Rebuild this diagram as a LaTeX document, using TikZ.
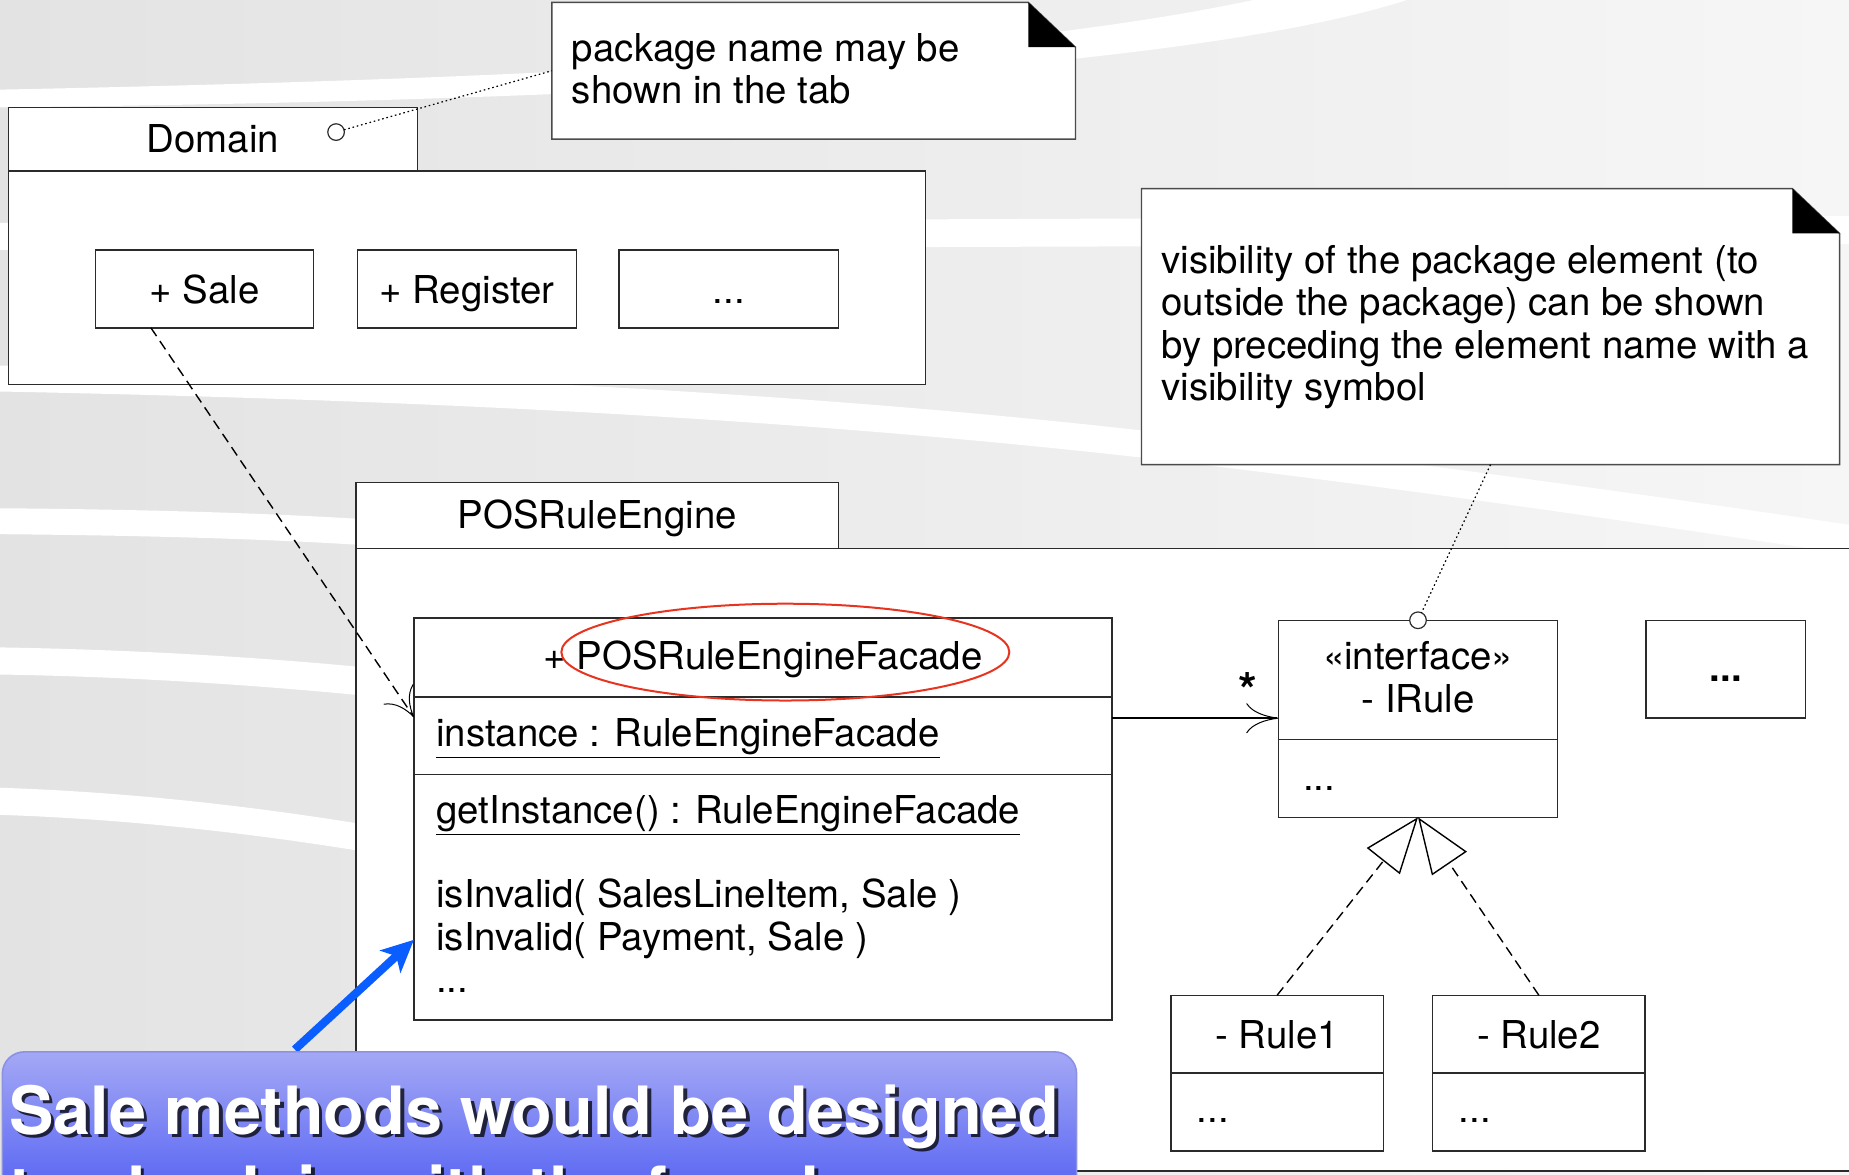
\documentclass[tikz,border=0pt]{standalone}
\usepackage{fontspec}
\setmainfont{TeX Gyre Heros}
\usetikzlibrary{arrows.meta,fit,calc}

\definecolor{bgL}{HTML}{E3E3E3}
\definecolor{bgR}{HTML}{F6F6F6}
\definecolor{linec}{HTML}{2B2B2B}
\definecolor{ovalred}{HTML}{E8341F}
\definecolor{calloutTop}{HTML}{A4A8F5}
\definecolor{calloutBot}{HTML}{5562F3}
\definecolor{calloutEdge}{HTML}{8C91E4}
\definecolor{pointer}{HTML}{0A5EFF}

\newcommand\umlfont{\fontsize{19.2pt}{21.2pt}\selectfont}
\newcommand\callfont{\fontsize{33.3pt}{40pt}\selectfont\bfseries}
\newcommand\leftlines[1]{\begin{tabular}[t]{@{}l@{}}#1\end{tabular}}
\newcommand\midlines[1]{\begin{tabular}[t]{@{}c@{}}#1\end{tabular}}

\begin{document}
\begin{tikzpicture}[x=0.5896pt, y=-0.5896pt,
  every node/.style={inner sep=0pt, outer sep=0pt},
  box/.style={draw=linec, line width=0.7pt, fill=white},
  boxlabel/.style={font=\umlfont, anchor=base},
  txt/.style={font=\umlfont, text=black},
  notebox/.style={draw=linec!85, line width=0.7pt, fill=white},
  fold/.style={fill=black},
  band/.style={fill=white},
  anchorcirc/.style={circle, draw=linec, line width=0.6pt, fill=white, minimum size=8.3pt},
  dotline/.style={draw=black, line width=0.6pt, dash pattern=on 0.8pt off 1.4pt},
  dep/.style={draw=black, line width=0.7pt, dash pattern=on 5pt off 3pt,
              -{Computer Modern Rightarrow[length=14pt, width=18pt, line width=0.5pt]}},
  assoc/.style={draw=black, line width=0.7pt,
              -{Computer Modern Rightarrow[length=16pt, width=15pt, line width=0.5pt]}},
  real/.style={draw=black, line width=0.7pt, dash pattern=on 5pt off 3pt,
              -{Triangle[length=28pt, width=21pt, fill=white, line width=0.7pt]}},
  callout/.style={draw=calloutEdge, line width=0.8pt, rounded corners=11pt,
              top color=calloutTop, bottom color=calloutBot},
  pointerarrow/.style={draw=pointer, line width=4.1pt,
              -{Stealth[length=16pt, width=15pt, inset=4pt]}},
]
\useasboundingbox (0,0) rectangle (1568,996);
\clip (0,0) rectangle (1568,996);

% ---------- slide background with white swooshes ----------
\fill[left color=bgL, right color=bgR] (0,0) rectangle (1568,996);
\fill[band] (0,76) .. controls (500,66) and (850,45) .. (1063,0) -- (1193,0)
            .. controls (1000,62) and (500,86) .. (0,91) -- cycle;
\fill[band] (0,189) -- (1568,183) -- (1568,207) -- (0,212) -- cycle;
\fill[band] (0,310) .. controls (400,318) and (700,335) .. (968,365)
            .. controls (1200,392) and (1400,420) .. (1568,445) -- (1568,470)
            .. controls (1400,445) and (1200,415) .. (968,388)
            .. controls (700,358) and (400,340) .. (0,332) -- cycle;
\fill[band] (0,431) .. controls (120,432) and (230,435) .. (320,441) -- (320,463)
            .. controls (230,457) and (120,454) .. (0,453) -- cycle;
\fill[band] (0,549) .. controls (120,551) and (230,558) .. (320,567) -- (320,591)
            .. controls (230,582) and (120,574) .. (0,572) -- cycle;
\fill[band] (0,668) .. controls (120,672) and (230,686) .. (320,701) -- (320,724)
            .. controls (230,709) and (120,695) .. (0,691) -- cycle;

% ---------- package Domain ----------
\node[box, fit={(7,91)(354,145)}] (dtab) {};
\node[boxlabel] (dtablabel) at ($(dtab.center)+(0,11)$) {Domain};
\node[box, fit={(7,145)(785,326)}] (dbody) {};
\node[box, fit={(81,212)(266,278)}] (sale) {};
\node[boxlabel] (salelabel) at ($(sale.center)+(0,12)$) {+ Sale};
\node[box, fit={(303,212)(489,278)}] (register) {};
\node[boxlabel] (registerlabel) at ($(register.center)+(0,12)$) {+ Register};
\node[box, fit={(525,212)(711,278)}] (dmore) {};
\node[boxlabel] (dmorelabel) at ($(dmore.center)+(0,12)$) {...};
\node[anchorcirc] (dcirc) at (285,112) {};

% ---------- package POSRuleEngine ----------
\node[box, fit={(302,409)(711,465)}] (ptab) {};
\node[boxlabel] (ptablabel) at ($(ptab.center)+(0,11)$) {POSRuleEngine};
\node[box, fit={(302,465)(1600,993)}] (pbody) {};

% ---------- notes ----------
\node[fit={(468,2)(912,118)}] (note1) {};
\filldraw[notebox] (468,2) -- (872,2) -- (912,40) -- (912,118) -- (468,118) -- cycle;
\fill[fold] (872,2) -- (872,40) -- (912,40) -- cycle;
\node[txt, anchor=base west] (note1text) at (485,52)
  {\leftlines{package name may be\\shown in the tab}};

\node[fit={(968,160)(1560,394)}] (note2) {};
\filldraw[notebox] (968,160) -- (1520,160) -- (1560,198) -- (1560,394) -- (968,394) -- cycle;
\fill[fold] (1520,160) -- (1520,198) -- (1560,198) -- cycle;
\node[txt, anchor=base west] (note2text) at (985,232)
  {\leftlines{visibility of the package element (to\\outside the package) can be shown\\by preceding the element name with a\\visibility symbol}};

\draw[dotline] (dcirc) -- (note1.west);

% ---------- class POSRuleEngineFacade ----------
\node[box, fit={(351,524)(943,591)}] (fhead) {};
\node[boxlabel] (fheadlabel) at ($(fhead.center)+(0,10)$) {+ POSRuleEngineFacade};
\node[box, fit={(351,591)(943,657)}] (fattr) {};
\node[box, fit={(351,657)(943,865)}] (fops) {};
\node[txt, anchor=base west] (fattrtext) at ($(fattr.north west)+(19,42)$)
  {\underline{instance : RuleEngineFacade}};
\node[txt, anchor=base west] (fopstext) at ($(fops.north west)+(19,41)$)
  {\leftlines{\underline{getInstance() : RuleEngineFacade}\\ \\isInvalid( SalesLineItem, Sale )\\isInvalid( Payment, Sale )\\...}};

% ---------- interface IRule and implementations ----------
\node[box, fit={(1084,526)(1321,627)}] (irhead) {};
\node[box, fit={(1084,627)(1321,693)}] (irbody) {};
\node[txt, anchor=base] (irtext) at ($(irhead.north)+(0,42)$)
  {\midlines{«interface»\\- IRule}};
\node[txt, anchor=base west] (irops) at ($(irbody.north west)+(21,43)$) {...};
\node[anchorcirc] (ircirc) at (irhead.north) {};
\draw[dotline] (note2.south) -- (ircirc);

\node[box, fit={(1396,526)(1531,609)}] (pmore) {};
\node[boxlabel, font=\umlfont\bfseries] (pmorelabel) at ($(pmore.center)+(0,10)$) {...};

\node[box, fit={(993,844)(1173,910)}] (r1head) {};
\node[boxlabel] (r1label) at ($(r1head.center)+(0,12)$) {- Rule1};
\node[box, fit={(993,910)(1173,976)}] (r1body) {};
\node[txt, anchor=base west] (r1ops) at ($(r1body.north west)+(22,42)$) {...};
\node[box, fit={(1215,844)(1395,910)}] (r2head) {};
\node[boxlabel] (r2label) at ($(r2head.center)+(0,12)$) {- Rule2};
\node[box, fit={(1215,910)(1395,976)}] (r2body) {};
\node[txt, anchor=base west] (r2ops) at ($(r2body.north west)+(22,42)$) {...};

% ---------- connectors ----------
\draw[dep] ($(sale.south west)!0.254!(sale.south east)$)
        -- ($(fattr.north west)!0.26!(fattr.south west)$);
\coordinate (assocstart) at ($(fattr.north east)!0.273!(fattr.south east)$);
\draw[assoc] (assocstart) -- (assocstart -| irhead.west);
\node[font=\fontsize{24pt}{24pt}\selectfont\bfseries] (mult) at (1058,585) {*};
\draw[real] (r1head.north) -- (irbody.south);
\draw[real] (r2head.north) -- (irbody.south);

% highlight round the facade name
\draw[ovalred, line width=1pt] (666,553) ellipse [x radius=112pt, y radius=24.2pt];

% ---------- callout ----------
\coordinate (ptrfoot) at (250,890);
\draw[pointerarrow] (ptrfoot)
  -- ($(fops.north west)!0.673!(fops.south west)$);
\node[callout, fit={(2,892)(913,1015)}] (callout) {};
\node[font=\callfont, text=black, opacity=0.75, anchor=base west] (calloutshadow) at (11,965)
  {\leftlines{Sale methods would be designed\\to check in with the facade}};
\node[font=\callfont, text=white, anchor=base west] (callouttext) at (8,962)
  {\leftlines{Sale methods would be designed\\to check in with the facade}};
\end{tikzpicture}
\end{document}
